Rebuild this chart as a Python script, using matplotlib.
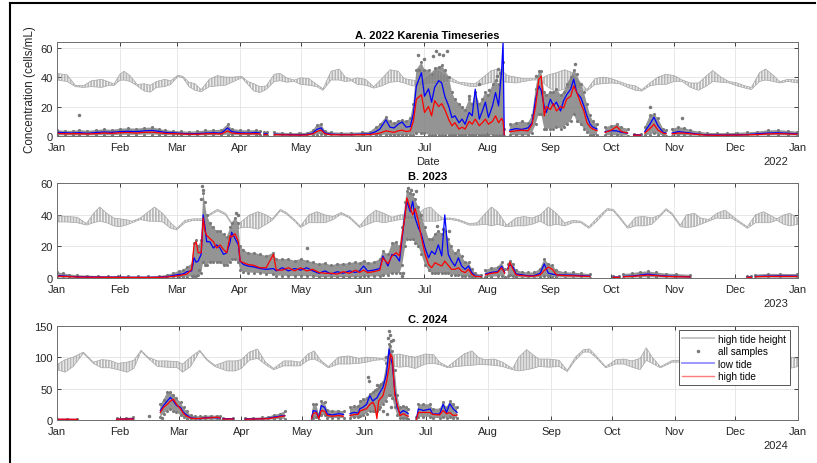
import numpy as np
import matplotlib
matplotlib.use('Agg')
import matplotlib.pyplot as plt
import matplotlib.dates as mdates
from matplotlib.lines import Line2D

nan = np.nan
plt.rcParams['font.family'] = ['Liberation Sans', 'DejaVu Sans']
plt.rcParams['hatch.linewidth'] = 0.45

# ---------------- 2022 ----------------
days_22 = [0, 4, 8, 11, 15, 19, 23, 27, 31, 35, 39, 43, 47, 50, 53, 57, 61, 65, 69, 73,
           77, 81, 84, 86, 90, 94, 98, 100, 101, 102, 103.5, 104,
           107, 111, 115, 119, 123, 126, 128, 130, 132, 135, 140, 145, 150, 154, 157, 159, 162, 164,
           166, 168, 170, 172, 174,
           175.5, 177, 179.5, 181, 183, 184.5, 186, 188, 189.5, 191, 193, 194.5, 196, 198, 199.5, 201,
           203, 204.5, 206, 208, 209.5, 211, 212.5, 214.5, 216, 217.5, 219, 219.7, 220.3, 220.8,
           223, 226, 229, 232, 234, 235.7, 237.3, 238.5, 240, 241, 243, 244.5, 246, 248, 249.5, 251,
           253, 254.5, 256, 258, 259.5, 261, 262.6, 264, 266, 266.7,
           270, 273, 275.7, 278, 281, 282.5, 284, 287.5, 288, 289.5, 292, 294, 296, 298.5, 300, 300.5,
           303, 306, 309, 312, 316, 320, 325, 330, 335, 340, 345, 350, 355, 360, 364.5]
low_22 = [2.5, 2.2, 2.0, 2.3, 1.8, 2.4, 2.7, 2.5, 3.0, 3.2, 3.0, 3.5, 3.8, 3.2, 2.5, 2.2, 1.8, 1.5, 1.6, 2.0,
          2.2, 2.0, 5.5, 3.0, 2.2, 2.0, 2.4, 2.0, nan, 1.5, 1.5, nan,
          1.2, 1.0, 0.9, 0.8, 1.0, 2.0, 4.5, 5.5, 2.0, 1.2, 1.0, 1.0, 1.2, 1.4, 3.0, 4.7, 11.0, 6.0,
          5.5, 8.0, 9.5, 6.0, 6.5,
          15, 34, 43, 27, 32, 23, 33, 37.6, 36, 27, 20, 12.5, 13.7, 9, 11.5, 8,
          16, 13.7, 31.8, 11.5, 17, 23, 12.6, 20.5, 29.5, 20.5, 45, 63.7, 1, nan,
          4, 5, 4.5, 5.5, 9, 25, 34, 31, 20, 16, 25, 20.5, 23, 17, 24, 28,
          31.8, 38.6, 29.5, 26, 20.5, 13.7, 8, 6, 4.7, nan,
          3, 3.6, 3.5, 2.5, 2, nan, 0.8, 0.8, nan, 3, 8, 12.8, 7, 2.5, 2, nan,
          2, 3, 2.5, 2, 1.2, 0.8, 0.7, 0.7, 0.8, 1.0, 1.5, 2.0, 2.2, 1.8, 1.5]
high_22 = [1.8, 1.5, 1.6, 1.5, 1.4, 1.6, 2.0, 1.8, 2.2, 2.4, 2.0, 2.5, 2.6, 2.2, 1.8, 1.6, 1.4, 1.2, 1.2, 1.5,
           1.6, 1.4, 3.5, 2.0, 1.6, 1.5, 1.6, 1.4, nan, 1.0, 1.0, nan,
           0.9, 0.8, 0.7, 0.6, 0.7, 1.5, 3.0, 4.0, 1.5, 0.9, 0.8, 0.8, 0.9, 1.0, 1.5, 2.0, 3.5, 3.0,
           2.5, 3.5, 4.0, 3.0, 3.5,
           10, 25, 28, 16, 20, 13.7, 24, 20, 22, 18, 11, 7, 9, 4.7, 6, 4.7,
           10, 8, 11.5, 7, 9, 11.5, 8, 10, 13.7, 9, 12, 10, 1, nan,
           3, 3.5, 4, 3.5, 8, 20, 38.5, 40.7, 13.7, 20, 18, 22, 17, 20, 19, 25,
           27, 34, 29.5, 22, 17, 9, 6, 4.7, 3.6, nan,
           2.5, 4, 6.5, 3, 2, nan, 0.6, 0.6, nan, 2, 5, 8, 4, 2, 1.5, nan,
           1.5, 2, 2, 1.5, 1, 0.6, 0.5, 0.6, 0.6, 0.8, 1.0, 1.4, 1.6, 1.4, 1.2]
smin_22 = [0.5, 0.5, 0.4, 0.5, 0.5, 0.5, 0.6, 0.5, 0.8, 0.8, 0.8, 1.0, 1.0, 0.8, 0.6, 0.5, 0.5, 0.4, 0.4, 0.5,
           0.5, 0.5, 1.0, 0.6, 0.5, 0.5, 0.5, 0.5, nan, 0.5, 0.5, nan,
           0.2, 0.2, 0.2, 0.2, 0.2, 0.5, 1.0, 1.5, 0.5, 0.3, 0.2, 0.2, 0.2, 0.3, 0.5, 0.5, 1.0, 0.5,
           0.5, 0.5, 0.5, 0.5, 1.0,
           1, 2, 2, 2, 1, 1, 1, 1, 1, 1, 1, 0.5, 0.5, 0.5, 0.5, 0.5,
           0.5, 0.5, 0.5, 0.5, 0.5, 0.5, 0.5, 0.5, 1, 1, 1, 1, 0, nan,
           0.5, 0.5, 0.5, 0.5, 2, 8, 15, 15, 5, 5, 5, 5, 6, 5, 6, 8,
           10, 15, 10, 8, 5, 3, 1, 0.5, 0.5, nan,
           0.5, 0.5, 0.5, 0.3, 0.3, nan, 0, 0, nan, 0.5, 1, 2, 1, 0.5, 0.3, nan,
           0.3, 0.5, 0.5, 0.3, 0.2, 0.1, 0.1, 0.1, 0.1, 0.2, 0.3, 0.4, 0.5, 0.4, 0.3]
smax_22 = [4, 3.5, 3.5, 4, 3.5, 4, 4.5, 4.2, 5, 5.2, 5, 5.5, 5.8, 5, 4, 3.5, 3.2, 3, 3.2, 3.8,
           4, 4.2, 8, 5, 4, 3.8, 4, 3.5, nan, 2.5, 2.5, nan,
           2.5, 2.2, 2.0, 2.0, 2.2, 4, 7.5, 8.3, 3.5, 2.5, 2.3, 2.3, 2.5, 3.0, 6, 8, 13, 10,
           9, 10.5, 11, 10, 12,
           22, 45, 50, 45, 45, 42, 46, 47, 48, 45, 40, 30, 25, 22, 20, 18,
           25, 22, 30, 22, 25, 30, 28, 35, 38, 35, 45, 50, 5, nan,
           8, 9, 10, 9, 14, 32, 44, 44, 30, 28, 30, 30, 32, 28, 30, 35,
           40, 45, 42, 35, 30, 22, 14, 10, 8, nan,
           6, 7, 8, 6, 5, nan, 1.5, 1.5, nan, 6, 14, 15, 12, 5, 4, nan,
           5, 6, 5.5, 4, 3, 2.2, 2, 2, 2.2, 2.5, 3, 3.8, 4, 3.5, 3]
odays_22 = [11, 178, 178.5, 181, 185, 186.5, 188, 190, 192, 203, 208, 213, 216.5, 217, 218, 236, 255, 292, 308]
ovals_22 = [14.4, 55, 45, 52, 54, 57.7, 56, 55, 58, 27, 35, 31, 41, 45.5, 43, 41, 49, 19.5, 12]
tday_22 = [0, 5, 9, 13, 17, 22, 26, 28, 31, 33, 36, 39.5, 43, 46, 49, 53, 56, 59.5, 62, 65,
           68, 71, 75, 79, 83, 87, 91, 94, 97, 100, 103, 107, 110, 113, 117, 120, 124, 128, 131, 135,
           139, 142, 145, 148, 152, 156, 160, 164, 168, 171, 175, 179, 183, 187, 190, 194, 198, 202, 206, 210,
           214, 218, 222, 226, 230, 234, 238, 242, 246, 250, 254, 258, 261, 265, 269, 273, 277, 281, 285, 288,
           292, 296, 300, 304, 308, 312, 316, 320, 323, 327, 331, 335, 339, 342, 346, 349, 353, 356, 360, 365]
tlo_22 = [38, 37, 33.5, 33, 33.5, 33, 34.5, 34.2, 37.8, 38, 37, 34, 30.5, 29.8, 33, 33.5, 35, 40.3, 39.5, 33.5,
          31, 30, 33.5, 34, 34.5, 37, 39.5, 35, 30.5, 29.5, 31.5, 37, 37.5, 36.5, 37, 35, 34.5, 33.5, 31, 38,
          38, 37, 37.5, 35, 34.5, 32.5, 34, 36.5, 37, 36, 34, 34, 35, 35, 36, 37, 35.5, 34, 33.5, 35,
          36.5, 37, 36.5, 36, 37, 38, 38, 33, 30, 32, 32, 32, 30.5, 35, 35.5, 36, 35.5, 33, 31, 30.5,
          34, 35, 35, 37, 37, 33, 31, 34, 37, 36.5, 36, 34, 32.5, 31.5, 37, 38, 37, 36, 37, 36]
thi_22 = [42.5, 41.5, 34.5, 34.2, 37.5, 38.5, 36.5, 35.2, 42, 44, 41, 35, 35.5, 34.5, 37, 38.5, 37.5, 41.3, 40.5, 36.5,
          35.5, 31.5, 38.5, 41, 40, 40, 40.5, 37, 35.5, 33.5, 34, 42, 42.5, 39.5, 38, 39.5, 39, 35, 32, 44,
          45.5, 40, 38.5, 39.5, 38.5, 33.5, 39, 45, 44, 39, 38, 37.5, 42, 45.5, 43, 39.5, 36.5, 36, 35.5, 40,
          44.5, 45.5, 41, 40, 39, 39, 39, 41.5, 43, 45, 43, 36, 31.5, 39, 40, 39, 37, 35, 34, 31.5,
          36, 40, 42, 41, 38, 36, 36, 41, 44.5, 40, 37, 36, 34, 33, 43, 45.5, 41, 37, 38.5, 38]

# ---------------- 2023 ----------------
days_23 = [0, 3, 6, 10, 15, 20, 25, 30, 35, 40, 45, 50, 54, 57, 60, 62, 64, 66.3, 67.5, 68.5,
           69.5, 71, 72, 72.8, 73.7, 75.3, 77, 78.6, 80.3, 82, 83.6, 85.3, 86, 87.7, 89.3, 90.2, 91.8, 94, 97, 100,
           103, 106.6, 108, 111, 114, 117, 120, 123, 126, 129, 132, 135, 138, 141, 144, 147, 149, 151, 153, 156,
           159, 160.5, 163, 165, 167, 168.7, 170, 171.5, 172.3, 174, 175.2, 176.4, 178, 179.5, 181.3, 183, 184.5,
           186.2, 187.8, 189.5, 191, 192.7, 194.3, 196, 197.7, 199.3, 201, 202.7, 204.3, 206, 209, 209.5,
           211, 214, 217, 219, 220.5, 221.5, 222, 223, 224.8, 226, 229, 232, 235, 238, 240, 242, 244, 246, 250, 254,
           258, 262.5, 263, 274, 277, 277.5, 279, 283, 287, 291, 295, 300, 305, 311.8, 312.3, 340, 342, 342.5,
           344, 350, 356, 364.5]
low_23 = [1.5, 1.3, 1.0, 0.8, 0.7, 0.6, 0.5, 0.5, 0.4, 0.4, 0.4, 0.5, 0.8, 1.5, 2.3, 2.5, 4.0, 4.5, 12.8, 10,
          10.7, 15, 40, 33, 23, 23, 19, 21, 19, 15, 16, 23, 29, 25, 21, 10.7, 8.6, 7.6, 7.0, 6.0,
          5.5, 6.0, 4.5, 6.5, 4.5, 6.0, 5.0, 6.5, 4.5, 3.0, 4.5, 2.5, 4.0, 3.0, 4.5, 3.5, 4.5, 7.6, 4.4, 5,
          6, 13.9, 7.6, 15, 14, 10.7, 25.5, 42, 48.6, 42, 48.6, 38, 31.8, 27.6, 19, 12.8, 17,
          15, 21, 14, 40, 15, 10.7, 7.6, 12.8, 7.6, 5.5, 7.6, 3.4, 1.2, 1.0, nan,
          2.5, 3.6, 4.0, 7.5, 3.5, nan, 6, 8.8, 6.5, 2.6, 2.0, 1.5, 1.5, 3.0, 9, 3, 2.5, 2.0, 1.9, 1.8,
          1.5, 1.2, nan, 0.5, 0.5, nan, 1.0, 1.2, 1.8, 2.5, 1.8, 1.2, 1.0, 0.8, nan, 0.5, 0.5, nan,
          1.0, 1.2, 1.3, 1.2]
high_23 = [1.2, 1.0, 0.8, 0.6, 0.5, 0.5, 0.4, 0.4, 0.3, 0.3, 0.3, 0.4, 0.6, 1.0, 1.5, 2.0, 2.5, 5.5, 21, 23,
           16, 16, 38, 30, 27, 25, 23, 19, 21, 18, 16, 27, 26, 28, 23, 10.7, 9.7, 8.6, 8.0, 6.5,
           6.5, 15, 5.0, 5.0, 6.5, 4.5, 6.5, 4.5, 5.5, 3.5, 3.0, 3.0, 2.5, 4.0, 3.0, 5.0, 3.5, 5, 3.4, 4,
           5, 12.8, 9, 14, 16, 14, 27, 40, 50.8, 44, 40, 44, 36, 25.5, 15, 8.6, 6.5,
           9.7, 8.6, 7.6, 10.7, 8, 5.5, 5.5, 6.5, 4.4, 3.4, 5.5, 2.3, 1.0, 0.8, nan,
           2.0, 3.0, 3.5, 6.5, 3.0, nan, 5, 10, 5, 2, 1.5, 1.2, 1.2, 2.0, 4.8, 6.9, 5.5, 2.0, 1.5, 1.4,
           1.2, 1.0, nan, 0.4, 0.4, nan, 0.8, 1.0, 1.4, 1.8, 1.5, 1.0, 0.8, 0.7, nan, 0.4, 0.4, nan,
           0.8, 1.0, 1.0, 1.0]
smin_23 = [0.3, 0.3, 0.2, 0.1, 0.1, 0.1, 0.1, 0.1, 0.1, 0.1, 0.1, 0.1, 0.2, 0.3, 0.5, 0.5, 0.8, 1.0, 1.0, 1.0,
           2, 3, 10, 8, 8, 10, 10, 10, 10, 8, 8, 10, 12, 12, 10, 5, 4, 3.4, 3.4, 3.0,
           2.5, 2.5, 1.5, 1.5, 1.2, 1.2, 1.2, 1.2, 1.0, 0.5, 0.5, 0.5, 0.5, 0.5, 0.5, 0.5, 0.5, 1, 1, 1,
           1, 2, 2, 3, 3, 3, 8, 20, 25, 25, 25, 22, 20, 15, 8, 5, 3,
           3, 3, 3, 3, 3, 2, 2, 2, 1, 1, 1, 0.5, 0.2, 0.1, nan,
           0.5, 0.8, 1.0, 1.5, 0.8, nan, 1, 2, 1, 0.5, 0.3, 0.3, 0.3, 0.5, 1, 1, 0.8, 0.5, 0.3, 0.3,
           0.3, 0.2, nan, 0.1, 0.1, nan, 0.2, 0.2, 0.4, 0.5, 0.4, 0.2, 0.2, 0.1, nan, 0.1, 0.1, nan,
           0.2, 0.2, 0.2, 0.2]
smax_23 = [3.6, 3.0, 2.2, 1.8, 1.5, 1.3, 1.2, 1.2, 1.0, 1.0, 1.0, 1.2, 2.0, 3.0, 4.5, 5.0, 7.0, 9.0, 22, 24,
           20, 24, 54, 48, 40, 35, 32, 30, 30, 28, 26, 32, 35, 38, 35, 20, 18, 16, 16, 15,
           14, 16, 12, 12, 12, 11, 12, 11, 10, 9, 9.5, 8, 9, 9, 9.5, 10, 9.7, 11, 9.7, 10,
           12, 17, 15, 22, 23, 20, 32, 48, 55, 54, 53, 50, 45, 40, 32, 25, 25,
           28, 30, 28, 30, 25, 20, 16, 18, 14, 10, 10, 6, 3, 2, nan,
           5, 6.5, 7, 10, 6, nan, 9, 11, 9, 5, 4, 3.5, 3.5, 6, 12, 9, 8, 5, 3.6, 3.5,
           3.0, 2.5, nan, 1.2, 1.2, nan, 2.5, 3.0, 3.8, 4.2, 3.5, 2.8, 2.5, 2.0, nan, 1.0, 1.0, nan,
           2.2, 2.6, 2.6, 2.5]
odays_23 = [70, 71, 71.5, 72, 88, 89, 123, 170, 170.5, 173, 174.5, 177, 187, 190, 193]
ovals_23 = [5, 50, 58, 56, 41, 40, 19, 1, 3, 57, 56, 55, 33, 31, 30]
tday_23 = [0, 5, 10, 14.5, 18, 21, 24.5, 28, 31, 34, 37, 41, 45, 48, 52, 56, 59, 63, 67, 72,
           75, 79, 83, 86, 88, 91, 95, 99, 103, 106, 110, 113, 117, 120, 124, 128, 132, 136, 140, 144,
           149, 153, 157, 161, 165, 169, 173, 177, 181, 184, 187, 190, 194, 198, 203, 207, 211, 214, 217, 221.5,
           226, 230, 234, 238, 242, 246, 250, 254, 258, 262, 266, 271, 274, 277, 281, 285, 289, 293, 297, 300,
           303, 307, 310, 314, 317, 321, 325, 329, 332, 336, 340, 344, 348, 351, 354.5, 358, 361, 365]
tlo_23 = [35.5, 35.5, 35, 33.5, 35, 36, 35, 33, 32.5, 33.5, 35, 37, 36, 36, 35.5, 31.5, 30.5, 35, 36.5, 36.5,
          39.5, 42.5, 40, 34, 30.5, 32, 32, 31, 34, 36.5, 42.5, 40.5, 36, 32, 35, 35, 35, 37, 40.5, 38,
          32, 34, 36, 35, 36, 37, 37, 37, 36, 36, 36, 37, 37, 36, 33.5, 33.5, 34, 33, 34, 32.5,
          33, 33, 34, 36, 33, 34, 33, 35, 35, 31.5, 36, 43, 42.5, 38, 31.5, 33, 33, 34, 39, 43,
          40, 32.5, 32, 32.5, 34, 36, 38, 37.5, 38, 35, 31.5, 35, 35, 35, 36.5, 34, 33, 34]
thi_23 = [39.5, 39, 38.5, 34.5, 41, 45, 41, 38, 37.5, 37, 36, 38, 42, 45, 41, 35, 31.5, 36.5, 37.5, 37.5,
          40.5, 43.5, 41, 35, 31.5, 36, 40, 42, 40, 37.5, 43.5, 41.5, 37, 33, 40, 42, 40, 39, 41.5, 39,
          33, 39, 43, 41, 38.5, 40, 40, 39.5, 44, 45, 41, 38, 38, 37, 34.5, 35, 41, 45, 42, 33.5,
          38, 39, 38, 40, 45, 41, 35, 36.5, 36, 32.5, 38, 44, 43.5, 39, 32.5, 38.5, 39, 38, 40, 44,
          41, 33.5, 40, 41, 38, 37, 41, 43, 40, 36, 32.5, 40, 42, 40, 37.5, 40, 41, 38]

# ---------------- 2024 ----------------
days_24 = [0, 5, 10, 10.5, 29.5, 34, 37.7, 38, 51, 52.6, 54.4, 56, 57.5, 59, 61, 62.5, 64, 66, 68, 70.6,
           73, 76, 79, 80.6, 81, 82, 87, 87.5, 93, 97, 101, 104, 107, 110, 112.5, 113, 125.7, 126.5, 128, 129.3,
           130.5, 132.2, 133.5, 136, 139, 141.5, 142.2, 144.7, 146.5, 148.8, 149.6, 151, 152.9, 154.5, 156, 157,
           158, 158.8, 159.5, 161, 162.7, 164, 164.7, 165.6, 166.8, 168, 169.4, 171, 172.6, 173.5,
           174, 177.5, 178.5, 181, 184.3, 185.5, 189, 190.7, 192.4, 194, 195.7, 197.6]
low_24 = [1.0, 0.8, 0.8, nan, 1.0, 1.5, 2.0, nan, 15, 23, 30, 36, 30, 23, 20, 12, 8, 3.5, 2.6, 2.0,
          3.5, 4.0, 3.5, 3.0, nan, 2.0, 2.0, nan, 1.5, 1.8, 2.0, 2.5, 4.5, 6.0, 7.0, nan, 2, 15, 14, 3,
          22.8, 20, 9.5, 8, 10, 9, nan, 10, 12, 11, 18, 20, 25, 38.7, 30, 33, 35, 40, 44, 52,
          73, 113, 99.6, 89, 46.6, 20, 10.6, 15, 12, 10, nan, 2, 17.5, 15, 17.5, 9.5, 9.5, 25, 12, 26,
          17.5, 12]
high_24 = [1.2, 1.2, 1.0, nan, 1.2, 1.5, 1.5, nan, 12, 20, 25, 30, 33, 25, 17.6, 10, 6, 3, 2.2, 2.5,
           3.0, 3.5, 4.5, 3.0, nan, 1.5, 1.5, nan, 1.2, 1.5, 1.8, 2.0, 3.5, 5.0, 6.5, nan, 2, 10, 12, 2,
           15, 14, 7, 6, 7, 6, nan, 7, 8.5, 9, 14, 16, 18, 25, 28, 22, 2, 30, 33, 38.7,
           60, 84, 105, 99.6, 41, 25, 7, 10, 7, 6, nan, 1, 12, 12, 12, 9, 8, 15, 10, 12,
           7, 8]
smin_24 = [0.2, 0.2, 0.2, nan, 0.2, 0.3, 0.3, nan, 5, 10, 15, 18, 15, 12, 8, 4, 2, 0.5, 0.3, 0.3,
           0.5, 0.5, 0.5, 0.5, nan, 0.5, 0.5, nan, 0.3, 0.3, 0.3, 0.5, 1.0, 1.5, 2.0, nan, 0, 3, 5, 0,
           8, 8, 3, 3, 3, 3, nan, 3, 4, 4, 6, 8, 10, 15, 15, 15, 15, 18, 20, 25,
           30, 40, 40, 35, 20, 8, 3, 3, 3, 2, nan, 0, 5, 5, 5, 3, 3, 5, 3, 5,
           3, 3]
smax_24 = [2, 2, 2, nan, 2.5, 3.5, 4, nan, 25, 32, 44, 44, 40, 35, 28, 20, 14, 8, 6, 6,
           7, 7, 7, 6, nan, 3.5, 3.5, nan, 3, 3.5, 4, 5, 8, 10, 14, nan, 6, 25, 25, 10,
           30, 28, 16, 15, 15, 14, nan, 20, 22.8, 22, 30, 33, 35, 42, 45, 48, 50, 52, 55, 60,
           90, 121, 118, 110, 80, 40, 20, 22, 20, 18, nan, 5, 25, 25, 25, 18, 18, 28, 20, 30,
           25, 20]
odays_24 = [45.4, 52, 153.7, 154, 158, 160, 161, 162.5, 163, 163.5, 164, 164.5, 165, 165, 166]
ovals_24 = [7, 3, 68, 62, 55, 58, 15, 100, 10, 130, 142, 135, 125, 20, 128]
tday_24 = [0, 4, 8, 13, 18, 22, 26, 30, 34.6, 38, 41.5, 45, 49.6, 54, 59.5, 62, 66, 70.5, 74, 78,
           84, 88, 91, 95, 99, 103, 107, 112, 116, 120, 124, 127, 130, 134, 139, 144, 149, 153, 157, 161,
           165, 169, 173, 177, 182, 186, 189, 193, 197, 201, 205, 208, 211, 216, 220, 225, 228, 232, 235, 238,
           243, 248, 252, 256, 260, 263, 266, 271, 276, 280, 284, 288, 291, 294, 298, 304, 309, 314, 320, 326,
           332, 338, 344, 350, 356, 362, 366]
tlo_24 = [80, 76, 85, 106, 90, 83, 83, 80, 76, 82, 109, 98, 85, 84, 83, 76, 85, 109, 95, 85,
          78, 78, 82, 95, 98, 88, 80, 86, 86, 86, 95, 97, 92, 83, 89, 89, 90, 92, 95, 96,
          86, 84, 85, 82, 89, 90, 88, 83, 85, 86, 87, 88, 88, 87, 85, 80, 78, 80, 82, 85,
          84, 85, 77, 95, 108, 108, 100, 83, 89, 89, 84, 80, 95, 90, 83, 92, 92, 88, 85, 90,
          85, 88, 85, 88, 85, 82, 85]
thi_24 = [88, 96, 100, 108, 92, 96, 95, 90, 92, 95, 111, 100, 94, 94, 93, 89, 100, 111, 97, 87,
          94, 94, 96, 108, 113, 92, 82, 94, 94, 92, 105, 110, 96, 85, 100, 102, 98, 100, 99, 98,
          103, 105, 102, 100, 105, 104, 92, 85, 95, 105, 110, 100, 96, 97, 92, 82, 100, 112, 104, 97,
          97, 95, 79, 100, 112, 113, 103, 85, 96, 97, 94, 98, 115, 100, 85, 95, 95, 100, 105, 98,
          95, 100, 105, 98, 95, 100, 98]

TIDE = '#8c8c8c'
DOT = '#7a7a7a'


def panel(ax, year, days, low, high, smin, smax, odays, ovals, tday, tlo, thi, ymax, yticks):
    base = mdates.date2num(np.datetime64(f'{year}-01-01'))
    end = mdates.date2num(np.datetime64(f'{year + 1}-01-01'))
    x = base + np.asarray(days, float)
    tx = base + np.asarray(tday, float)

    # tide height envelope drawn as dense vertical strokes
    ax.fill_between(tx, tlo, thi, facecolor='none', edgecolor=TIDE, hatch='|' * 11, lw=0)
    ax.plot(tx, tlo, color='#a0a0a0', lw=0.45)
    ax.plot(tx, thi, color='#a0a0a0', lw=0.45)

    # all samples
    ax.fill_between(x, smin, smax, color=DOT, lw=0, alpha=0.8)
    ax.plot(x, smax, ls='none', marker='.', ms=2.5, color=DOT)
    ax.plot(x, smin, ls='none', marker='.', ms=2.5, color=DOT)
    ax.plot(base + np.asarray(odays), ovals, ls='none', marker='.', ms=3, color=DOT)

    ax.plot(x, low, color='#0000ff', lw=0.9)
    ax.plot(x, high, color='#ff0000', lw=0.9)

    ax.set_xlim(base, end)
    ax.set_ylim(0, ymax)
    ax.set_yticks(yticks)
    ax.xaxis.set_major_locator(mdates.MonthLocator())
    ax.xaxis.set_major_formatter(mdates.DateFormatter('%b'))
    ax.grid(True, color='#e3e3e3', lw=0.6)
    ax.set_axisbelow(True)
    ax.tick_params(direction='in', length=3, width=0.6, labelsize=8, colors='#262626',
                   top=True, right=True)
    ax.tick_params(axis='x', pad=4.5)
    ax.tick_params(axis='y', pad=3)
    for s in ax.spines.values():
        s.set_color('#6e6e6e')
        s.set_linewidth(0.7)
    ax.text(0.9865, -0.265, str(year), transform=ax.transAxes, ha='right', va='center',
            fontsize=8, color='#262626')


fig = plt.figure(figsize=(8.17, 4.64), dpi=100)
axA = fig.add_axes([0.0698, 0.7047, 0.907, 0.2032])
axB = fig.add_axes([0.0698, 0.3987, 0.907, 0.2041])
axC = fig.add_axes([0.0698, 0.0927, 0.907, 0.2032])

panel(axA, 2022, days_22, low_22, high_22, smin_22, smax_22, odays_22, ovals_22,
      tday_22, tlo_22, thi_22, 64, [0, 20, 40, 60])
panel(axB, 2023, days_23, low_23, high_23, smin_23, smax_23, odays_23, ovals_23,
      tday_23, tlo_23, thi_23, 60, [0, 20, 40, 60])
panel(axC, 2024, days_24, low_24, high_24, smin_24, smax_24, odays_24, ovals_24,
      tday_24, tlo_24, thi_24, 150, [0, 50, 100, 150])

tkw = dict(fontsize=8, fontweight='bold', pad=3)
axA.set_title('A. 2022 Karenia Timeseries', **tkw)
axB.set_title('B. 2023', **tkw)
axC.set_title('C. 2024', **tkw)
axA.set_ylabel('Concentration (cells/mL)', fontsize=8.4, color='#262626', labelpad=3)
axA.set_xlabel('Date', fontsize=8, color='#262626', labelpad=3)

handles = [Line2D([], [], color='#c4c4c4', lw=1.4),
           Line2D([], [], ls='none', marker='.', ms=3, color=DOT),
           Line2D([], [], color='#9a9aff', lw=1.4),
           Line2D([], [], color='#ff7a7a', lw=1.0)]
labels = ['high tide height', 'all samples', 'low tide', 'high tide']
leg = axC.legend(handles, labels, loc='upper right', bbox_to_anchor=(0.989, 0.954),
                 borderaxespad=0, fontsize=7.2, frameon=True, fancybox=False, edgecolor='#555555',
                 handlelength=3.2, labelspacing=0.25, borderpad=0.35, handletextpad=0.4)
leg.get_frame().set_linewidth(0.7)
leg.get_frame().set_alpha(1)

# figure frame: only its top and left edges fall inside the image
fig.add_artist(Line2D([0.0122, 0.998], [0.9907, 0.9907], transform=fig.transFigure, color='black', lw=1.5))
fig.add_artist(Line2D([0.0122, 0.0122], [0.0, 0.9907], transform=fig.transFigure, color='black', lw=1.5))

fig.savefig('out.png', dpi=100)
